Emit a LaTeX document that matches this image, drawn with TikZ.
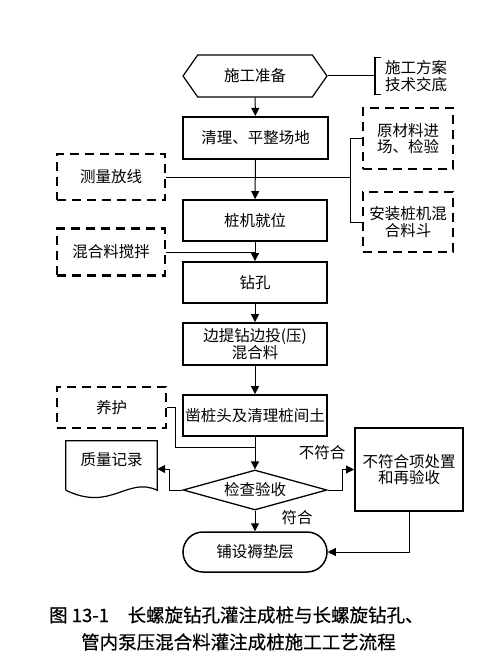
\documentclass[tikz,border=0pt]{standalone}
\usepackage{fontspec}
\setmainfont{Noto Sans CJK SC}
\newfontfamily\capfont[FakeBold=0.5]{Noto Sans CJK SC}
\usetikzlibrary{shapes.geometric,shapes.symbols,shapes.misc,arrows.meta}
\tikzset{
  txt/.style={font=\fontsize{15.5}{16.5}\selectfont,align=center,inner sep=0pt},
  proc/.style={txt,draw,line width=1.8pt,minimum width=144pt,minimum height=41pt},
  dbox/.style={txt,draw,line width=2.4pt,dash pattern=on 9pt off 6pt,minimum width=108pt,minimum height=46pt},
  lnk/.style={line width=1pt},
  arr/.style={lnk,-{Triangle[length=8pt,width=8pt]}},
  capt/.style={font=\capfont\fontsize{18.5}{20}\selectfont,anchor=west,inner sep=0pt},
}
\begin{document}
\begin{tikzpicture}[x=1pt,y=1pt]
  \useasboundingbox (0,0) rectangle (499,-658);
  % main column
  \node[txt,draw,line width=1.2pt,signal,signal to=west and east,signal pointer angle=110,minimum width=144pt,minimum height=42pt] (prep) at (255,-76) {施工准备};
  \node[proc,line width=2.2pt,minimum width=145pt,minimum height=42pt] (clear) at (255.5,-138) {清理、平整场地};
  \node[proc] (pos) at (255,-220.5) {桩机就位};
  \node[proc] (drill) at (255,-282.5) {钻孔};
  \node[proc,minimum height=42pt] (feed) at (255,-344) {边提钻边投(压)\\混合料};
  \node[proc] (chisel) at (255,-415.5) {凿桩头及清理桩间土};
  \node[txt,draw,diamond,line width=1.3pt,minimum width=144pt,minimum height=40pt,aspect=3.6] (check) at (255,-490) {检查验收};
  \node[txt,draw,rounded rectangle,line width=1.5pt,minimum width=144pt,minimum height=40pt] (pad) at (255,-552) {铺设褥垫层};
  % side boxes
  \node[txt,anchor=west,inner xsep=10pt,minimum height=37pt] (plan) at (375,-76) {施工方案\\技术交底};
  \node[dbox,minimum width=90pt,minimum height=61pt] (mat) at (408,-138.5) {原材料进\\场、检验};
  \node[dbox,minimum width=90pt,minimum height=60pt] (hop) at (408,-222) {安装桩机混\\合料斗};
  \node[dbox] (survey) at (111,-177) {测量放线};
  \node[dbox,minimum height=47pt] (mix) at (111,-252) {混合料搅拌};
  \node[dbox,minimum width=109pt,minimum height=41pt] (cure) at (111.5,-407.5) {养护};
  \node[txt,minimum width=91pt,minimum height=38pt] (rec) at (111.5,-460) {质量记录};
  \node[proc,line width=2pt,minimum width=108pt,minimum height=83pt] (fix) at (409,-469.5) {不符合项处置\\和再验收};
  \node[txt] (nok) at (322,-453) {不符合};
  \node[txt] (ok) at (297,-518) {符合};
  % document shape and bracket
  \draw[line width=1.2pt] ([yshift=-11pt]rec.south west) -- (rec.north west) -- (rec.north east) -- ([yshift=-11pt]rec.south east)
    .. controls +(-30pt,14pt) and +(45pt,-22pt) .. ([yshift=-11pt]rec.south west);
  \draw[line width=1.2pt] ([xshift=6pt]plan.north west) -- (plan.north west) -- (plan.south west) -- ([xshift=6pt]plan.south west);
  % connectors
  \coordinate (jR) at (350,-177);
  \coordinate (jC) at (255,-447);
  \draw[arr] (prep) -- (clear);
  \draw[lnk] (prep.east) -- (plan.west);
  \draw[arr] (clear) -- (pos);
  \draw[lnk] (survey.east) -- (jR);
  \draw[lnk] (mat.west) -- (mat.west -| jR) -- (hop.west -| jR) -- (hop.west);
  \draw[arr] (pos) -- (drill);
  \draw[lnk] (mix.east) -- (mix.east -| drill.north);
  \draw[arr] (drill) -- (feed);
  \draw[arr] (feed) -- (chisel);
  \draw[arr] (chisel) -- (check);
  \draw[lnk] (cure.east) -- ++(8,0) |- (jC);
  \draw[arr] (check.west) -- ++(-13,0) |- ([yshift=-9pt]rec.east);
  \draw[arr] (check.east) -- ++(15,0) |- (fix.west);
  \draw[arr] (check) -- (pad);
  \draw[arr] (fix.south) |- (pad.east);
  % caption
  \node[capt] (cap1) at (49,-615) {图 13-1\quad 长螺旋钻孔灌注成桩与长螺旋钻孔、};
  \node[capt] (cap2) at (81,-642) {管内泵压混合料灌注成桩施工工艺流程};
\end{tikzpicture}
\end{document}
